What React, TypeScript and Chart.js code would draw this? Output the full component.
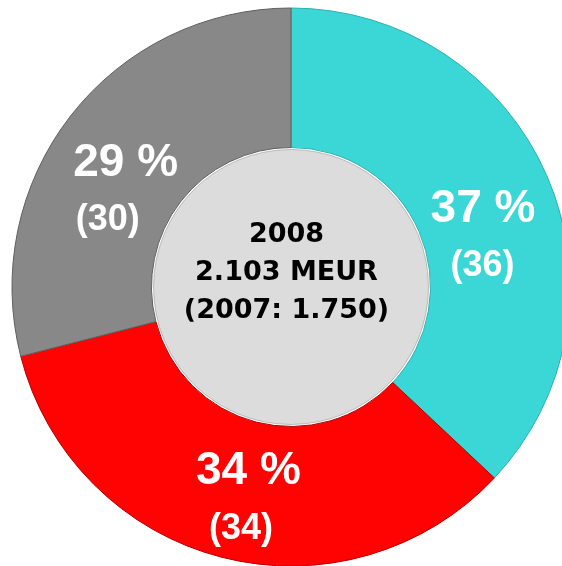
import React, { useEffect, useRef } from "react";
import { Chart, registerables } from "chart.js";

Chart.register(...registerables);

// Segments (clockwise from 12 o'clock)
const categories = ["Segment 1", "Segment 2", "Segment 3"];
const shares2008 = [37, 34, 29];
const shares2007 = [36, 34, 30];
const segmentColors = ["#3AD7D6", "#FF0303", "#888888"];
const segmentEdges = ["#2AAFAF", "#B00000", "#5E5E5E"];
const centerLines = ["2008", "2.103 MEUR", "(2007: 1.750)"];

// label nudges relative to each slice's centre point: [pctDx, pctDy, prevDx, prevDy]
const labelNudges = [
  [0, 18, -0.5, 72],
  [9.5, -6, 2, 49],
  [0, 17, -18, 71],
];

const ringPlugin = {
  id: "ringDecor",
  afterDatasetsDraw(chart: any) {
    const ctx = chart.ctx;
    const meta = chart.getDatasetMeta(0);
    const first = meta.data[0];
    const { x, y, innerRadius } = first.getProps(["x", "y", "innerRadius"], true);

    ctx.save();
    // centre disc
    ctx.beginPath();
    ctx.arc(x, y, innerRadius - 2, 0, Math.PI * 2);
    ctx.fillStyle = "#DCDCDC";
    ctx.fill();
    ctx.lineWidth = 1;
    ctx.strokeStyle = "rgba(90,90,90,0.35)";
    ctx.stroke();

    // centre text
    ctx.fillStyle = "#000000";
    ctx.textAlign = "center";
    ctx.textBaseline = "alphabetic";
    ctx.font = "bold 27px 'DejaVu Sans'";
    const lineOffsets = [-45, -7, 31];
    centerLines.forEach((t, i) => {
      ctx.fillText(t, x - 4.5, y + lineOffsets[i]);
    });

    // slice labels
    ctx.fillStyle = "#FFFFFF";
    meta.data.forEach((arc: any, i: number) => {
      const c = arc.getCenterPoint(true);
      const n = labelNudges[i];
      ctx.font = "bold 46px 'Liberation Sans', Arial, sans-serif";
      ctx.fillText(shares2008[i] + " %", c.x + n[0], c.y + n[1]);
      ctx.font = "bold 36px 'Liberation Sans', Arial, sans-serif";
      ctx.fillText("(" + shares2007[i] + ")", c.x + n[2], c.y + n[3]);
    });
    ctx.restore();
  },
};

export default function App() {
  const canvasRef = useRef<HTMLCanvasElement | null>(null);

  useEffect(() => {
    if (!canvasRef.current) return;
    const chart = new Chart(canvasRef.current, {
      type: "doughnut",
      data: {
        labels: categories,
        datasets: [
          {
            data: shares2008,
            backgroundColor: segmentColors,
            borderColor: segmentEdges,
            borderWidth: 1,
          },
        ],
      },
      options: {
        responsive: false,
        animation: false,
        cutout: "50%",
        radius: 279,
        rotation: 0,
        layout: { padding: { left: 20, top: 8, right: 0, bottom: 0 } },
        plugins: {
          legend: { display: false },
          tooltip: { enabled: false },
        },
      },
      plugins: [ringPlugin],
    });
    return () => chart.destroy();
  }, []);

  return (
    <div style={{ position: "fixed", left: 0, top: 0, width: 562, height: 566, background: "#FFFFFF" }}>
      <canvas ref={canvasRef} width={562} height={566} style={{ display: "block" }} />
    </div>
  );
}
